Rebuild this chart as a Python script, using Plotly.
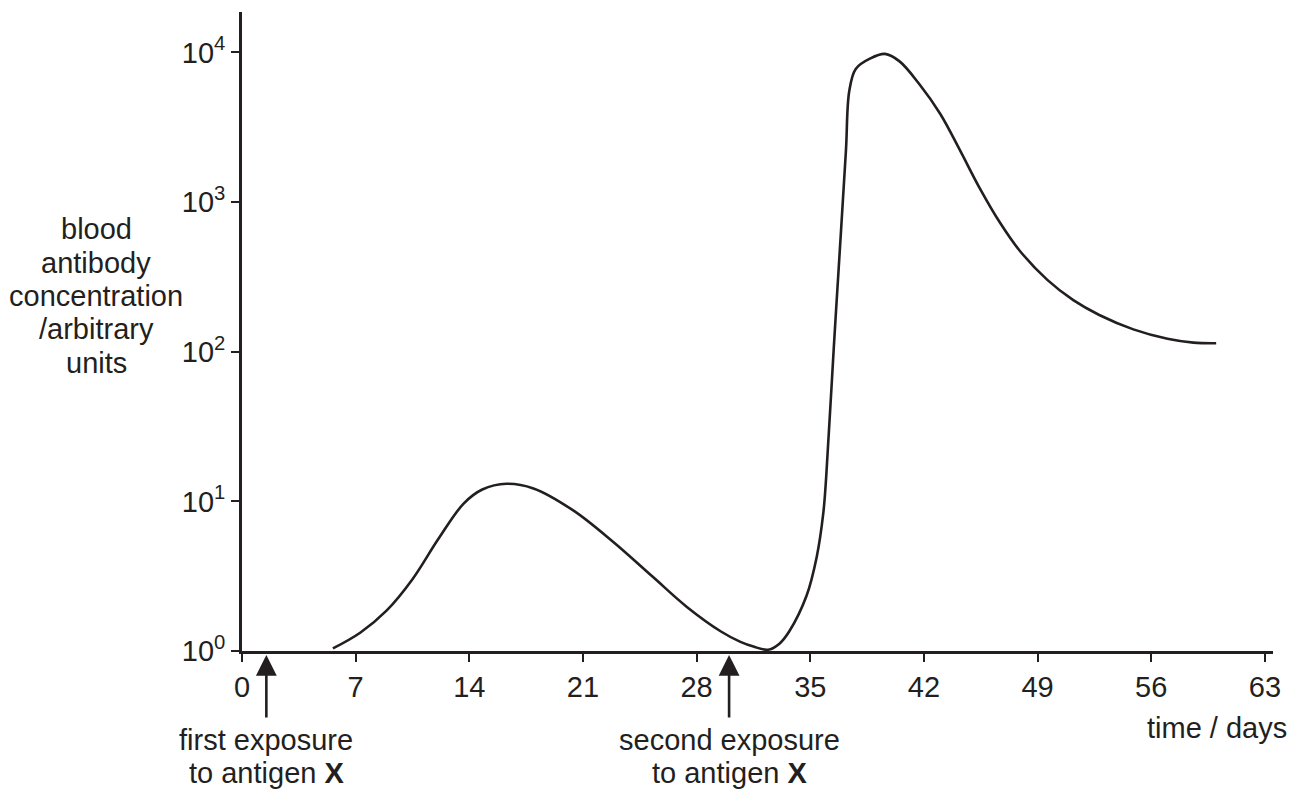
import plotly.graph_objects as go

# ---- data ----
days = [5.6, 7.3, 8.9, 10.5, 12.1, 13.65, 14.8, 16.3, 17.95, 20.4, 22.85,
        25.3, 27.4, 29.5, 30.7, 31.5, 32.4, 33.1, 33.7, 34.77, 35.4, 35.8,
        35.98, 36.45, 36.9, 37.2, 37.4, 37.8, 38.7, 39.6, 40.5, 41.7, 43.0,
        44.2, 45.4, 46.7, 47.9, 49.6, 51.2, 52.8, 54.9, 57.0, 58.6, 60.0]
antibody = [1.04, 1.33, 1.86, 3.02, 5.62, 9.66, 12.0, 13.1, 12.2, 8.7, 5.37,
            3.13, 1.97, 1.35, 1.15, 1.07, 1.02, 1.12, 1.35, 2.34, 4.27, 8.3,
            14.5, 107, 660, 2240, 5500, 7760, 9120, 9770, 8710, 6170, 3890,
            2240, 1260, 724, 473, 302, 221, 176, 141, 122, 115, 114]

x_ticks = [0, 7, 14, 21, 28, 35, 42, 49, 56, 63]
y_ticks = [1, 10, 100, 1000, 10000]
y_tick_text = ["10<sup>0</sup>", "10<sup>1</sup>", "10<sup>2</sup>", "10<sup>3</sup>", "10<sup>4</sup>"]

exposure_days = [1.5, 30]
exposure_labels = [["first exposure", "to antigen <b>X</b>"],
                   ["second exposure", "to antigen <b>X</b>"]]
y_title_lines = ["blood", "antibody", "concentration", "/arbitrary", "units"]
x_title = "time / days"

INK = "#231f20"
FONT = "Liberation Sans, Arial, Helvetica, sans-serif"
FS = 29

W, H = 1298, 792
L, R, T, B = 242, 25, 12, 141
ph = H - T - B

fig = go.Figure()
fig.add_trace(go.Scatter(
    x=days, y=antibody, mode="lines",
    line=dict(color=INK, width=2.6, shape="spline", smoothing=1.0),
    hoverinfo="x+y", showlegend=False,
))

fig.update_layout(
    width=W, height=H,
    margin=dict(l=L, r=R, t=T, b=B, pad=0),
    paper_bgcolor="white", plot_bgcolor="white",
    font=dict(family=FONT, size=FS, color=INK),
    showlegend=False,
)
fig.update_xaxes(
    range=[0, 63.5], tickvals=x_ticks, ticktext=[str(v) for v in x_ticks],
    showgrid=False, zeroline=False, showline=True, linecolor=INK, linewidth=2.6,
    ticks="outside", ticklen=8, tickwidth=1.5, tickcolor=INK,
    tickfont=dict(family=FONT, size=FS, color=INK),
)
fig.update_yaxes(
    type="log", range=[0, 4.27], tickvals=y_ticks, ticktext=y_tick_text,
    showgrid=False, zeroline=False, showline=True, linecolor=INK, linewidth=2.6,
    ticks="outside", ticklen=8, tickwidth=1.5, tickcolor=INK,
    tickfont=dict(family=FONT, size=FS, color=INK),
)

def py(pix):
    """pixel row (from top) -> paper y"""
    return (H - B - pix) / ph

ann = []
# y-axis title, line by line
for i, line in enumerate(y_title_lines):
    ann.append(dict(text=line, xref="paper", yref="paper",
                    x=-(L - 96) / (W - L - R), y=py(229 + 33.5 * i),
                    xanchor="center", yanchor="middle", showarrow=False,
                    font=dict(family=FONT, size=FS, color=INK)))
# x-axis title
ann.append(dict(text=x_title, xref="paper", yref="paper",
                x=(1289 - L) / (W - L - R), y=py(728),
                xanchor="right", yanchor="middle", showarrow=False,
                font=dict(family=FONT, size=FS, color=INK)))
# exposure arrows and labels
for d, lines in zip(exposure_days, exposure_labels):
    ann.append(dict(text="", x=d, y=py(655), xref="x", yref="paper",
                    showarrow=True, arrowhead=2, arrowsize=1.6, arrowwidth=2.6,
                    arrowcolor=INK, ax=0, ay=64, standoff=0, startstandoff=0))
    for j, line in enumerate(lines):
        ann.append(dict(text=line, x=d, xref="x", yref="paper", y=py(740 + 33 * j),
                        xanchor="center", yanchor="middle", showarrow=False,
                        font=dict(family=FONT, size=FS, color=INK)))
fig.update_layout(annotations=ann)

fig.write_html(
    "out.html",
    config={"displayModeBar": False},
    post_script="document.body.style.margin='0px';document.body.style.overflow='hidden';",
)
